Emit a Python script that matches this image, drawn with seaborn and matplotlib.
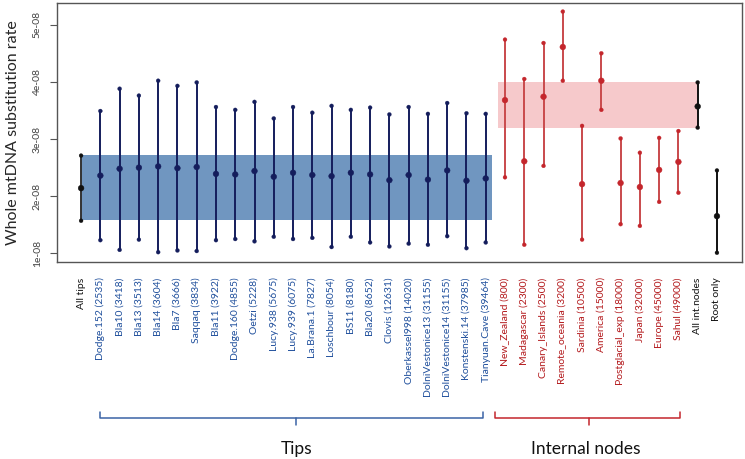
import numpy as np
import pandas as pd
import seaborn as sns
import matplotlib
matplotlib.use("Agg")
import matplotlib.pyplot as plt
import matplotlib.transforms as mtransforms

# ---------------- data ----------------
labels = ["All tips",
          "Dodge.152 (2535)", "Bla10 (3418)", "Bla13 (3513)", "Bla14 (3604)", "Bla7 (3666)",
          "Saqqaq (3834)", "Bla11 (3922)", "Dodge.160 (4855)", "Oetzi (5228)", "Lucy.938 (5675)",
          "Lucy.939 (6075)", "La.Brana.1 (7827)", "Loschbour (8054)", "BS11 (8180)", "Bla20 (8652)",
          "Clovis (12631)", "Oberkassel998 (14020)", "DolniVestonice13 (31155)",
          "DolniVestonice14 (31155)", "Konstenski.14 (37985)", "Tianyuan.Cave (39464)",
          "New_Zealand (800)", "Madagascar (2300)", "Canary_Islands (2500)", "Remote_oceania (3200)",
          "Sardinia (10500)", "America (15000)", "Postglacial_exp (18000)", "Japan (32000)",
          "Europe (45000)", "Sahul (49000)",
          "All int.nodes", "Root only"]
group = (["all"] + ["tip"] * 21 + ["node"] * 10 + ["all", "all"])

mid = [2.14, 2.36, 2.48, 2.50, 2.52, 2.49, 2.51, 2.39, 2.38, 2.44, 2.34, 2.41, 2.37, 2.35, 2.41,
       2.38, 2.28, 2.37, 2.29, 2.45, 2.27, 2.31,
       3.68, 2.61, 3.74, 4.61, 2.21, 4.02, 2.23, 2.16, 2.46, 2.60,
       3.57, 1.65]
upper = [2.71, 3.49, 3.88, 3.76, 4.02, 3.93, 3.99, 3.56, 3.51, 3.65, 3.36, 3.56, 3.46, 3.58, 3.51,
         3.55, 3.43, 3.56, 3.44, 3.63, 3.45, 3.44,
         4.74, 4.05, 4.68, 5.23, 3.23, 4.50, 3.01, 2.76, 3.02, 3.14,
         3.99, 2.45]
lower = [1.57, 1.23, 1.06, 1.24, 1.02, 1.05, 1.04, 1.23, 1.25, 1.21, 1.29, 1.25, 1.27, 1.11, 1.29,
         1.19, 1.12, 1.17, 1.15, 1.30, 1.09, 1.19,
         2.33, 1.15, 2.53, 4.02, 1.24, 3.51, 1.51, 1.48, 1.90, 2.06,
         3.20, 1.01]
scale = 1e-8
tips_band = (1.58, 2.72)
nodes_band = (3.20, 4.00)
yticks = [1e-8, 2e-8, 3e-8, 4e-8, 5e-8]
ytick_labels = ["1e-08", "2e-08", "3e-08", "4e-08", "5e-08"]

df = pd.DataFrame({
    "label": labels, "group": group,
    "pos": np.arange(len(labels)),
    "mid": np.array(mid) * scale,
    "upper": np.array(upper) * scale,
    "lower": np.array(lower) * scale,
})
df["color"] = df["group"].map({"all": "#111111", "tip": "#141d5c", "node": "#c4262c"})
lab_color = {"all": "#111111", "tip": "#1f4f9c", "node": "#b3191c"}

# ---------------- plot ----------------
sns.set_style("white")
plt.rcParams["font.family"] = ["Lato", "DejaVu Sans"]

fig = plt.figure(figsize=(7.45, 4.59), dpi=100)
ax = fig.add_axes([57 / 745, 1 - 262 / 459, (742 - 57) / 745, (262 - 3) / 459])

# bands
ax.axhspan(tips_band[0] * scale, tips_band[1] * scale, xmin=(0 + 1.25) / 35.55,
           xmax=(21.35 + 1.25) / 35.55, color="#7096c0", lw=0, zorder=1)
ax.axhspan(nodes_band[0] * scale, nodes_band[1] * scale, xmin=(21.62 + 1.25) / 35.55,
           xmax=(32 + 1.25) / 35.55, color="#f6c9cb", lw=0, zorder=1)

# bars
for _, r in df.iterrows():
    c = r["color"]
    lc = "#333333" if r["label"] == "All tips" else ("#c94a4c" if r["group"] == "node" else c)
    ax.vlines(r["pos"], r["lower"], r["upper"], color=lc, lw=1.4, zorder=2)

pal = {c: c for c in df["color"].unique()}
ends = pd.concat([df[["pos", "lower", "color"]].rename(columns={"lower": "v"}),
                  df[["pos", "upper", "color"]].rename(columns={"upper": "v"})])
sns.scatterplot(data=ends, x="pos", y="v", hue="color", palette=pal,
                s=8, edgecolor=None, legend=False, ax=ax, zorder=3)
sns.scatterplot(data=df, x="pos", y="mid", hue="color", palette=pal,
                s=17, edgecolor=None, legend=False, ax=ax, zorder=3)

ax.set_xlim(-1.25, 34.3)
ax.set_ylim(0.848e-8, 5.38e-8)
ax.set_xticks(df["pos"])
ax.set_xticklabels(df["label"], rotation=90, fontsize=7.5, va="top", ha="center")
for t, g in zip(ax.get_xticklabels(), df["group"]):
    t.set_color(lab_color[g])
ax.tick_params(axis="x", length=0, pad=11)
ax.set_yticks(yticks)
ax.set_yticklabels(ytick_labels, rotation=90, va="center", fontsize=7.5, color="#444444")
ax.tick_params(axis="y", length=5, width=0.8, color="#555555", pad=6, left=True)
ax.set_xlabel("")
ax.set_ylabel("Whole mtDNA substitution rate", fontsize=11.5, labelpad=9)
for sp in ax.spines.values():
    sp.set_color("#555555")
    sp.set_linewidth(1.0)

# brackets
trans = mtransforms.blended_transform_factory(ax.transData, ax.transAxes)
yb = (262 - 418) / 259
yt = (262 - 412) / 259
yc = (262 - 425) / 259

def bracket(x0, x1, xc, color, text, xt):
    ax.plot([x0, x0, x1, x1], [yt, yb, yb, yt], color=color, lw=1.1, transform=trans, clip_on=False)
    ax.plot([xc, xc], [yb, yc], color=color, lw=1.1, transform=trans, clip_on=False)
    ax.text(xt, (262 - 449) / 259, text, transform=trans, ha="center", va="center",
            fontsize=12.5, color="#111111")

bracket(0.98, 20.86, 11.16, "#3a63a5", "Tips", 11.16)
bracket(21.48, 31.08, 26.36, "#c4262c", "Internal nodes", 26.2)

fig.savefig("out.png", dpi=100)
